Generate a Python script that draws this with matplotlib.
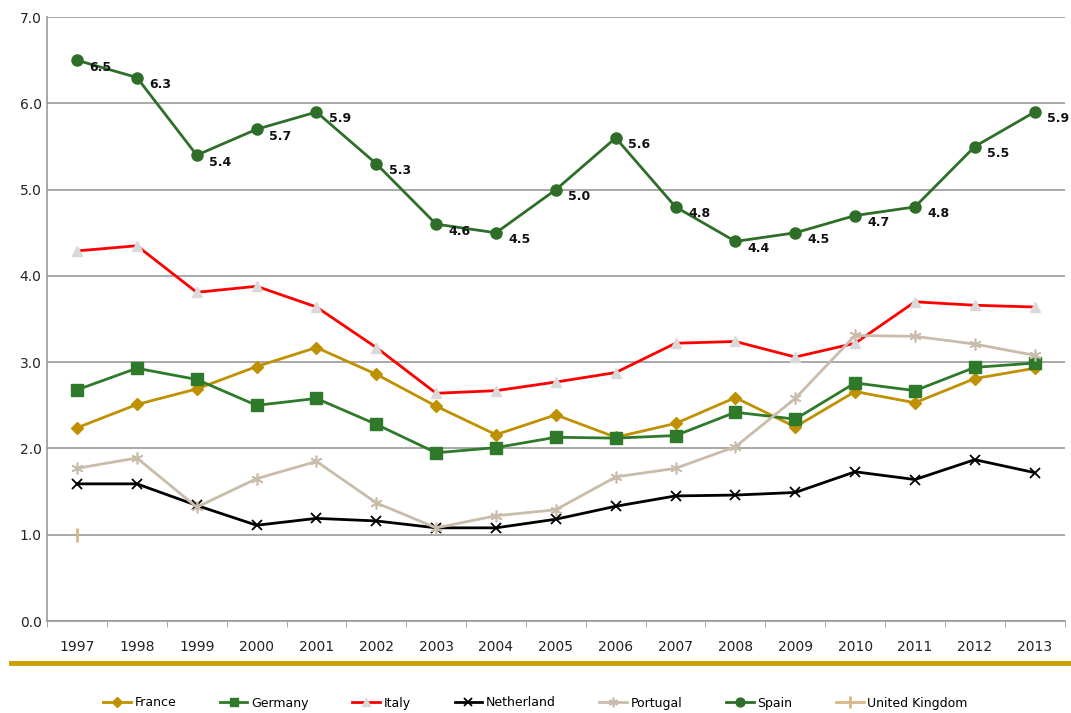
import numpy as np
import matplotlib
matplotlib.use("Agg")
import matplotlib.pyplot as plt
from matplotlib.lines import Line2D

years = list(range(1997, 2014))

france = [2.24, 2.51, 2.69, 2.95, 3.17, 2.86, 2.49, 2.16, 2.39, 2.13, 2.29, 2.59, 2.25, 2.66, 2.53, 2.81, 2.93]
germany = [2.68, 2.93, 2.80, 2.50, 2.58, 2.28, 1.95, 2.01, 2.13, 2.12, 2.15, 2.42, 2.34, 2.76, 2.67, 2.94, 2.99]
italy = [4.29, 4.35, 3.81, 3.88, 3.64, 3.17, 2.64, 2.67, 2.77, 2.88, 3.22, 3.24, 3.06, 3.22, 3.70, 3.66, 3.64]
netherland = [1.59, 1.59, 1.34, 1.11, 1.19, 1.16, 1.08, 1.08, 1.18, 1.33, 1.45, 1.46, 1.49, 1.73, 1.64, 1.87, 1.72]
portugal = [1.77, 1.89, 1.32, 1.65, 1.85, 1.37, 1.08, 1.22, 1.29, 1.67, 1.77, 2.02, 2.58, 3.31, 3.30, 3.21, 3.08]
spain = [6.5, 6.3, 5.4, 5.7, 5.9, 5.3, 4.6, 4.5, 5.0, 5.6, 4.8, 4.4, 4.5, 4.7, 4.8, 5.5, 5.9]
uk = [1.0] + [np.nan] * 16

series = [
    ("France", france, dict(color="#bf9000", marker="D", ms=6)),
    ("Germany", germany, dict(color="#2e7a2a", marker="s", ms=8)),
    ("Italy", italy, dict(color="#ff0000", marker="^", ms=7, mfc="#d9d9d9", mec="#d9d9d9")),
    ("Netherland", netherland, dict(color="#000000", marker="x", ms=7, mew=1.3)),
    ("Portugal", portugal, dict(color="#c9bcab", marker=(6, 2, 0), ms=8.5, mew=1.2)),
    ("Spain", spain, dict(color="#2f6e29", marker="o", ms=8)),
    ("United Kingdom", uk, dict(color="#d6b886", marker="|", ms=10, mew=2)),
]

fig = plt.figure(figsize=(10.71, 7.13), dpi=100)
ax = fig.add_axes([0.044, 0.129, 0.950, 0.847])

x = np.arange(len(years))
for name, vals, style in series:
    ax.plot(x, vals, lw=2, label=name, zorder=3, **style)

for xi, v in zip(x, spain):
    ax.annotate(f"{v:.1f}", (xi, v), xytext=(9, -5), textcoords="offset points",
                fontsize=9, fontweight="bold", color="#111111", va="center", ha="left", zorder=4)

ax.set_xlim(-0.5, len(years) - 0.5)
ax.set_ylim(0, 7)
ax.set_yticks(np.arange(0, 7.1, 1.0))
ax.set_yticklabels([f"{v:.1f}" for v in np.arange(0, 7.1, 1.0)], fontsize=10, color="#222222")
ax.set_xticks(x)
ax.set_xticklabels([str(y) for y in years], fontsize=10, color="#222222")
ax.set_xticks(np.arange(-0.5, len(years), 1.0), minor=True)
ax.tick_params(axis="x", which="major", length=0, pad=14)
ax.tick_params(axis="x", which="minor", length=4, color="#999999")
ax.tick_params(axis="y", length=0, pad=4)

ax.yaxis.grid(True, color="#999999", lw=1.2)
ax.set_axisbelow(True)
for s in ["top", "right"]:
    ax.spines[s].set_visible(False)
for s in ["left", "bottom"]:
    ax.spines[s].set_color("#999999")
    ax.spines[s].set_linewidth(1.2)

# gold separator line under the axis labels
fig.add_artist(Line2D([0.01, 1.0], [1 - 663 / 713] * 2, color="#c9a000", lw=3.5))

fig.legend(loc="center", bbox_to_anchor=(0.5, 1 - 703 / 713), ncol=7, frameon=False,
           fontsize=9, handlelength=2.2, columnspacing=3.5, handletextpad=0.3, markerscale=0.8)

fig.savefig("out.png", dpi=100)
